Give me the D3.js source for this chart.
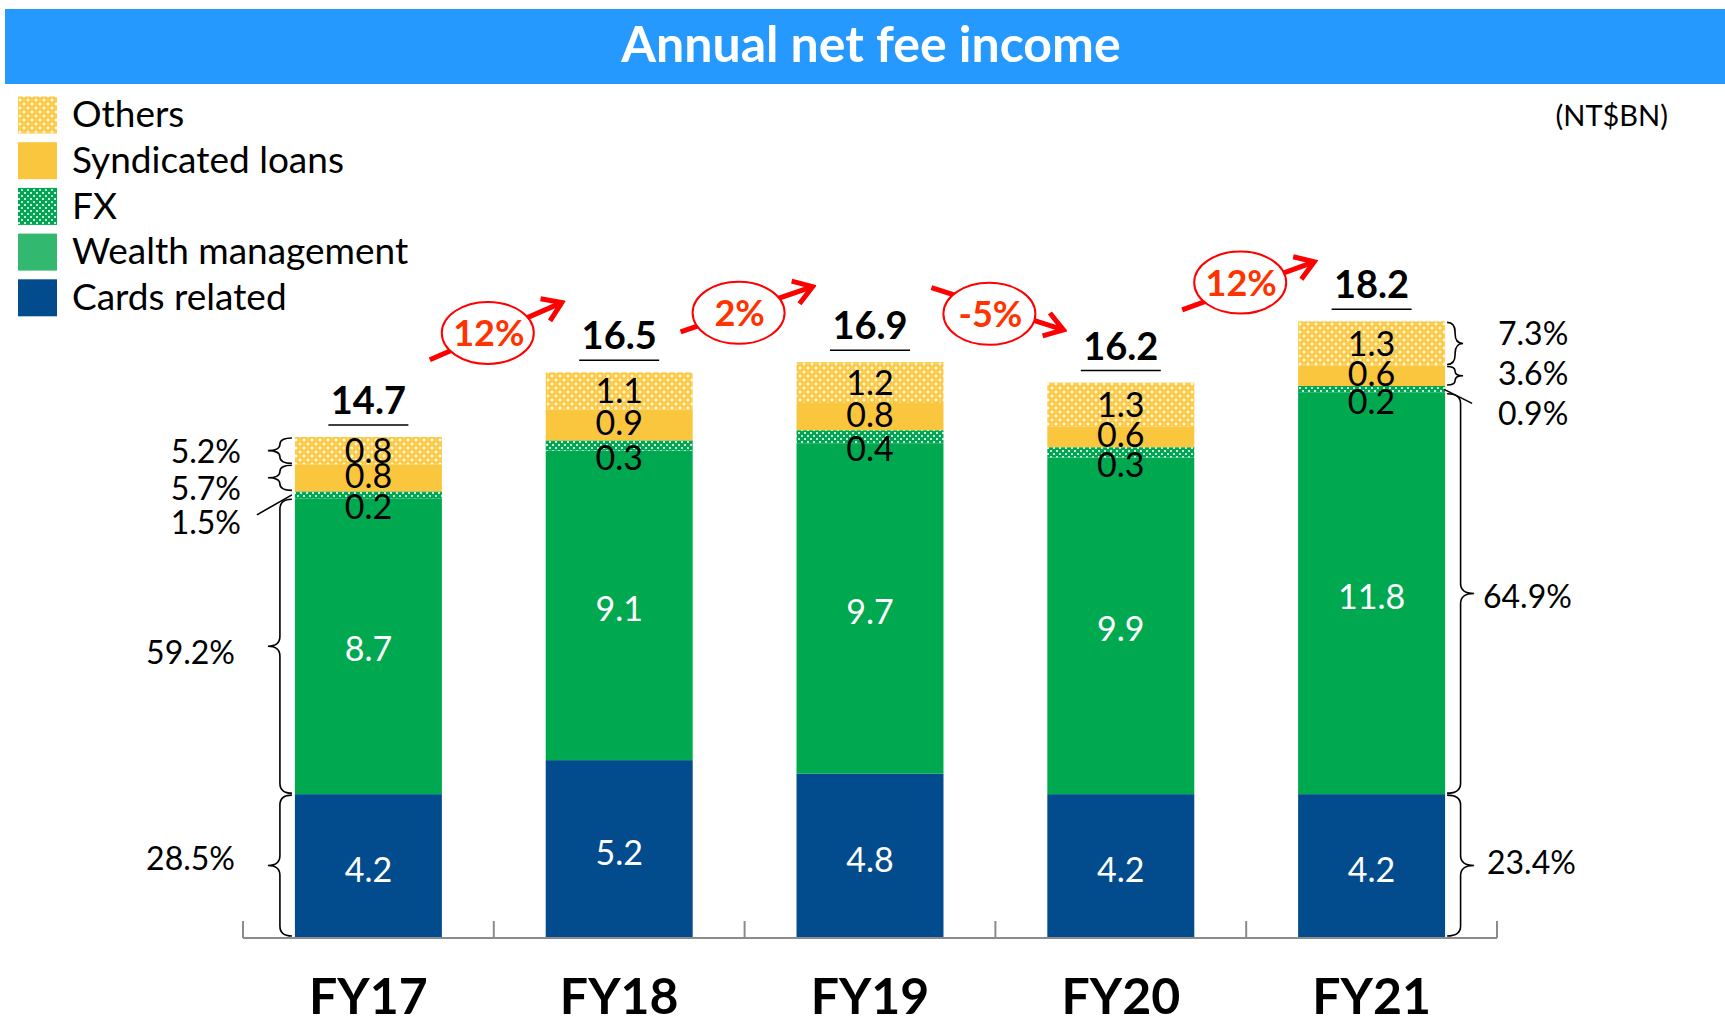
<!DOCTYPE html>
<html>
<head>
<meta charset="utf-8">
<script src="https://cdn.jsdelivr.net/npm/d3@7"></script>
<style>
  body { margin: 0; background: #fff; }
  svg { display: block; font-family: Lato, "Noto Sans", sans-serif; }
</style>
</head>
<body>
<div id="chart"></div>
<script>
const width = 1725,
      height = 1020;

// data (NT$BN)
const years = ["FY17", "FY18", "FY19", "FY20", "FY21"];
const cards = [4.2, 5.2, 4.8, 4.2, 4.2];
const wealth = [8.7, 9.1, 9.7, 9.9, 11.8];
const fx = [0.2, 0.3, 0.4, 0.3, 0.2];
const syndicated = [0.8, 0.9, 0.8, 0.6, 0.6];
const others = [0.8, 1.1, 1.2, 1.3, 1.3];
const totals = [14.7, 16.5, 16.9, 16.2, 18.2];
const growth = ["12%", "2%", "-5%", "12%"];
const shareFY17 = ["28.5%", "59.2%", "1.5%", "5.7%", "5.2%"];
const shareFY21 = ["23.4%", "64.9%", "0.9%", "3.6%", "7.3%"];
// growth arrows, heights in NT$BN units
const arrowFrom = [16.97, 17.79, 19.09, 18.44];
const arrowTo = [18.65, 19.12, 17.85, 19.85];
const bubbleAt = [17.76, 18.35, 18.32, 19.24];

const keys = ["cards", "wealth", "fx", "syndicated", "others"];
const legendNames = {
  others: "Others",
  syndicated: "Syndicated loans",
  fx: "FX",
  wealth: "Wealth management",
  cards: "Cards related"
};

const rows = years.map((y, i) => ({
  year: y,
  cards: cards[i],
  wealth: wealth[i],
  fx: fx[i],
  syndicated: syndicated[i],
  others: others[i]
}));

const svg = d3.select("#chart")
  .append("svg")
  .attr("width", width)
  .attr("height", height);

// patterns
const defs = svg.append("defs");
const yellowPat = defs.append("pattern")
  .attr("id", "patOthers").attr("patternUnits", "userSpaceOnUse")
  .attr("width", 8).attr("height", 8);
yellowPat.append("rect").attr("width", 8).attr("height", 8).attr("fill", "#F9C63C");
yellowPat.append("path")
  .attr("d", "M0,-2L2,0L0,2L-2,0Z M8,-2L10,0L8,2L6,0Z M0,6L2,8L0,10L-2,8Z M8,6L10,8L8,10L6,8Z M4,2.3L5.7,4L4,5.7L2.3,4Z")
  .attr("fill", "#fff").attr("opacity", 0.8);
yellowPat.append("rect").attr("x", 3.5).attr("y", 0).attr("width", 1).attr("height", 8).attr("fill", "#fff").attr("opacity", 0.3);
yellowPat.append("rect").attr("x", 0).attr("y", 3.5).attr("width", 8).attr("height", 1).attr("fill", "#fff").attr("opacity", 0.3);

const greenPat = defs.append("pattern")
  .attr("id", "patFx").attr("patternUnits", "userSpaceOnUse")
  .attr("width", 6).attr("height", 6);
greenPat.append("rect").attr("width", 6).attr("height", 6).attr("fill", "#00A651");
greenPat.append("rect").attr("x", 0).attr("y", 0).attr("width", 2).attr("height", 2).attr("fill", "#fff").attr("opacity", 0.8);
greenPat.append("rect").attr("x", 3).attr("y", 3).attr("width", 2).attr("height", 2).attr("fill", "#fff").attr("opacity", 0.8);

const fills = {
  cards: "#024C8D",
  wealth: "#00A84F",
  fx: "url(#patFx)",
  syndicated: "#F9C63E",
  others: "url(#patOthers)"
};
const legendFills = Object.assign({}, fills, { wealth: "#33B96F" });

// title bar
svg.append("rect")
  .attr("x", 5).attr("y", 9)
  .attr("width", width - 5).attr("height", 75)
  .attr("fill", "#2699FF");
svg.append("text")
  .attr("x", 871).attr("y", 62)
  .attr("text-anchor", "middle")
  .attr("fill", "#fff")
  .attr("font-weight", 700)
  .attr("font-size", 50)
  .text("Annual net fee income");

svg.append("text")
  .attr("x", 1668).attr("y", 126)
  .attr("text-anchor", "end")
  .attr("font-size", 29)
  .text("(NT$BN)");

// legend
const legendKeys = ["others", "syndicated", "fx", "wealth", "cards"];
const legend = svg.append("g");
legendKeys.forEach((k, i) => {
  const cy = 115 + i * 45.7;
  legend.append("rect")
    .attr("x", 18).attr("y", cy - 18.5)
    .attr("width", 39).attr("height", 37)
    .attr("fill", legendFills[k]);
  legend.append("text")
    .attr("x", 72).attr("y", cy - 1)
    .attr("dy", "0.36em")
    .attr("font-size", 37)
    .text(legendNames[k]);
});

// scales
const x = d3.scaleBand()
  .domain(years)
  .range([243, 1497])
  .paddingInner(0.414)
  .paddingOuter(0.207);

const y = d3.scaleLinear()
  .domain([0, 14.7])
  .range([937, 437]);

const stack = d3.stack().keys(keys)(rows);

const layers = svg.append("g")
  .selectAll("g")
  .data(stack)
  .join("g")
  .attr("fill", d => fills[d.key]);

layers.selectAll("rect")
  .data(d => d)
  .join("rect")
  .attr("x", d => x(d.data.year))
  .attr("y", d => y(d[1]))
  .attr("width", x.bandwidth())
  .attr("height", d => y(d[0]) - y(d[1]));

// segment labels
const labelShift = { cards: 4, wealth: 3, fx: 12, syndicated: -2, others: 0 };
const labelColor = { cards: "#fff", wealth: "#fff", fx: "#000", syndicated: "#000", others: "#000" };

stack.forEach(layer => {
  svg.append("g")
    .selectAll("text")
    .data(layer)
    .join("text")
    .attr("x", d => x(d.data.year) + x.bandwidth() / 2)
    .attr("y", d => (y(d[0]) + y(d[1])) / 2 + labelShift[layer.key])
    .attr("dy", "0.36em")
    .attr("text-anchor", "middle")
    .attr("font-size", 34)
    .attr("fill", labelColor[layer.key])
    .text(d => d.data[layer.key].toFixed(1));
});

// totals with underline
const tops = years.map((yr, i) => stack[stack.length - 1][i][1]);
const totalG = svg.append("g");
years.forEach((yr, i) => {
  const cx = x(yr) + x.bandwidth() / 2;
  totalG.append("text")
    .attr("x", cx).attr("y", y(tops[i]) - 23)
    .attr("text-anchor", "middle")
    .attr("font-size", 38)
    .attr("font-weight", 700)
    .text(totals[i].toFixed(1));
  totalG.append("line")
    .attr("x1", cx - 40).attr("x2", cx + 40)
    .attr("y1", y(tops[i]) - 12).attr("y2", y(tops[i]) - 12)
    .attr("stroke", "#000").attr("stroke-width", 1.5);
});

// x axis
const axisY = 938;
const axisG = svg.append("g").attr("stroke", "#8C8C8C").attr("stroke-width", 2);
axisG.append("line")
  .attr("x1", 243).attr("x2", 1497)
  .attr("y1", axisY).attr("y2", axisY);
d3.range(years.length + 1).forEach(i => {
  const tx = 243 + i * x.step();
  axisG.append("line")
    .attr("x1", tx).attr("x2", tx)
    .attr("y1", axisY).attr("y2", axisY - 17);
});
svg.append("g")
  .selectAll("text")
  .data(years)
  .join("text")
  .attr("x", d => x(d) + x.bandwidth() / 2)
  .attr("y", 1014)
  .attr("text-anchor", "middle")
  .attr("font-size", 50)
  .attr("font-weight", 700)
  .text(d => d);

// braces
function brace(xp, y0, y1, depth) {
  const half = depth / 2;
  const ym = (y0 + y1) / 2;
  const q = Math.min(10, (y1 - y0) / 4);
  return `M${xp},${y0} Q${xp + half},${y0} ${xp + half},${y0 + q}` +
    ` L${xp + half},${ym - q} Q${xp + half},${ym} ${xp + depth},${ym}` +
    ` Q${xp + half},${ym} ${xp + half},${ym + q}` +
    ` L${xp + half},${y1 - q} Q${xp + half},${y1} ${xp},${y1}`;
}

const notes = svg.append("g").attr("fill", "none").attr("stroke", "#000").attr("stroke-width", 1.6);
const first = stack.map(l => l[0]);
const last = stack.map(l => l[years.length - 1]);
const leftX = x(years[0]) - 3;
const rightX = x(years[4]) + x.bandwidth() + 2;

// FY17 (left)
[0, 1, 3, 4].forEach(k => {
  const d = first[k];
  notes.append("path").attr("d", brace(leftX, y(d[1]) + 1, y(d[0]) - 1, -24));
});
notes.append("line")
  .attr("x1", leftX).attr("y1", (y(first[2][0]) + y(first[2][1])) / 2)
  .attr("x2", leftX - 35).attr("y2", (y(first[2][0]) + y(first[2][1])) / 2 + 20);

// FY21 (right)
[0, 1].forEach(k => {
  const d = last[k];
  notes.append("path").attr("d", brace(rightX, y(d[1]) + 1, y(d[0]) - 1, 27));
});
[3, 4].forEach(k => {
  const d = last[k];
  notes.append("path").attr("d", brace(rightX, y(d[1]) + 1, y(d[0]) - 1, 16));
});
notes.append("line")
  .attr("x1", rightX - 3).attr("y1", (y(last[2][0]) + y(last[2][1])) / 2)
  .attr("x2", rightX + 25).attr("y2", (y(last[2][0]) + y(last[2][1])) / 2 + 14);

// share labels
const leftNudge = [-7, 6, 28, 11, 1];
const leftEdge = [235, 235, 241, 241, 241];
first.forEach((d, k) => {
  svg.append("text")
    .attr("x", leftEdge[k])
    .attr("y", (y(d[0]) + y(d[1])) / 2 + leftNudge[k])
    .attr("dy", "0.36em")
    .attr("text-anchor", "end")
    .attr("font-size", 32)
    .text(shareFY17[k]);
});
const rightNudge = [-3, 3, 24, -2, -10];
const rightEdge = [1487, 1483, 1498, 1498, 1498];
last.forEach((d, k) => {
  svg.append("text")
    .attr("x", rightEdge[k])
    .attr("y", (y(d[0]) + y(d[1])) / 2 + rightNudge[k])
    .attr("dy", "0.36em")
    .attr("font-size", 32)
    .text(shareFY21[k]);
});

// growth arrows
defs.append("marker")
  .attr("id", "head")
  .attr("markerUnits", "userSpaceOnUse")
  .attr("viewBox", "-24 -16 28 32")
  .attr("markerWidth", 28).attr("markerHeight", 32)
  .attr("refX", 0).attr("refY", 0)
  .attr("orient", "auto")
  .append("path")
  .attr("d", "M-18,-12 L0,0 L-18,12")
  .attr("fill", "none")
  .attr("stroke", "#FF0000")
  .attr("stroke-width", 5)
  .attr("stroke-linejoin", "miter");

const arrows = svg.append("g");
growth.forEach((g, i) => {
  const bx = 243 + (i + 1) * x.step();
  arrows.append("line")
    .attr("x1", bx - 64).attr("y1", y(arrowFrom[i]))
    .attr("x2", bx + 68).attr("y2", y(arrowTo[i]))
    .attr("stroke", "#FF0000")
    .attr("stroke-width", 5)
    .attr("marker-end", "url(#head)");
  arrows.append("ellipse")
    .attr("cx", bx - 6).attr("cy", y(bubbleAt[i]))
    .attr("rx", 46).attr("ry", 31)
    .attr("fill", "#fff")
    .attr("stroke", "#FF0000")
    .attr("stroke-width", 2);
  arrows.append("text")
    .attr("x", bx - 5).attr("y", y(bubbleAt[i]))
    .attr("dy", "0.36em")
    .attr("text-anchor", "middle")
    .attr("font-size", 36)
    .attr("font-weight", 700)
    .attr("fill", "#FF3300")
    .text(g);
});
</script>
</body>
</html>
